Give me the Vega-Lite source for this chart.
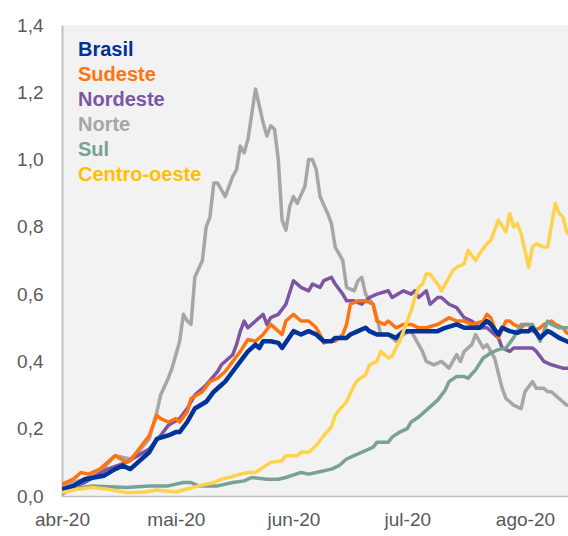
{
  "$schema": "https://vega.github.io/schema/vega-lite/v6.json",
  "width": 506,
  "height": 471,
  "autosize": {"type": "none"},
  "padding": {"left": 62, "top": 25, "right": 0, "bottom": 40},
  "background": "white",
  "config": {
    "view": {"fill": "#F2F2F2", "stroke": null},
    "font": "Liberation Sans"
  },
  "data": {
    "values": [
      {"s":"Norte","d":"2020-04-01","v":0.03},{"s":"Norte","d":"2020-04-07","v":0.05},{"s":"Norte","d":"2020-04-11","v":0.07},{"s":"Norte","d":"2020-04-15","v":0.12},{"s":"Norte","d":"2020-04-19","v":0.11},{"s":"Norte","d":"2020-04-21","v":0.13},{"s":"Norte","d":"2020-04-24","v":0.17},{"s":"Norte","d":"2020-04-26","v":0.25},{"s":"Norte","d":"2020-04-27","v":0.30},{"s":"Norte","d":"2020-04-29","v":0.35},{"s":"Norte","d":"2020-04-30","v":0.38},{"s":"Norte","d":"2020-05-01","v":0.42},{"s":"Norte","d":"2020-05-02","v":0.46},{"s":"Norte","d":"2020-05-03","v":0.54},{"s":"Norte","d":"2020-05-04","v":0.52},{"s":"Norte","d":"2020-05-05","v":0.51},{"s":"Norte","d":"2020-05-06","v":0.65},{"s":"Norte","d":"2020-05-08","v":0.70},{"s":"Norte","d":"2020-05-09","v":0.80},{"s":"Norte","d":"2020-05-10","v":0.83},{"s":"Norte","d":"2020-05-11","v":0.93},{"s":"Norte","d":"2020-05-12","v":0.93},{"s":"Norte","d":"2020-05-14","v":0.89},{"s":"Norte","d":"2020-05-16","v":0.95},{"s":"Norte","d":"2020-05-17","v":0.97},{"s":"Norte","d":"2020-05-18","v":1.04},{"s":"Norte","d":"2020-05-19","v":1.02},{"s":"Norte","d":"2020-05-20","v":1.06},{"s":"Norte","d":"2020-05-22","v":1.21},{"s":"Norte","d":"2020-05-24","v":1.11},{"s":"Norte","d":"2020-05-25","v":1.07},{"s":"Norte","d":"2020-05-26","v":1.10},{"s":"Norte","d":"2020-05-27","v":1.09},{"s":"Norte","d":"2020-05-28","v":1.00},{"s":"Norte","d":"2020-05-29","v":0.82},{"s":"Norte","d":"2020-05-30","v":0.79},{"s":"Norte","d":"2020-05-31","v":0.86},{"s":"Norte","d":"2020-06-01","v":0.89},{"s":"Norte","d":"2020-06-02","v":0.87},{"s":"Norte","d":"2020-06-04","v":0.92},{"s":"Norte","d":"2020-06-05","v":1.00},{"s":"Norte","d":"2020-06-06","v":1.00},{"s":"Norte","d":"2020-06-07","v":0.97},{"s":"Norte","d":"2020-06-08","v":0.89},{"s":"Norte","d":"2020-06-10","v":0.84},{"s":"Norte","d":"2020-06-11","v":0.81},{"s":"Norte","d":"2020-06-12","v":0.74},{"s":"Norte","d":"2020-06-13","v":0.72},{"s":"Norte","d":"2020-06-14","v":0.70},{"s":"Norte","d":"2020-06-15","v":0.62},{"s":"Norte","d":"2020-06-17","v":0.61},{"s":"Norte","d":"2020-06-18","v":0.64},{"s":"Norte","d":"2020-06-19","v":0.65},{"s":"Norte","d":"2020-06-20","v":0.60},{"s":"Norte","d":"2020-06-22","v":0.57},{"s":"Norte","d":"2020-06-23","v":0.53},{"s":"Norte","d":"2020-06-24","v":0.48},{"s":"Norte","d":"2020-06-26","v":0.48},{"s":"Norte","d":"2020-06-28","v":0.46},{"s":"Norte","d":"2020-06-30","v":0.48},{"s":"Norte","d":"2020-07-02","v":0.49},{"s":"Norte","d":"2020-07-03","v":0.47},{"s":"Norte","d":"2020-07-04","v":0.45},{"s":"Norte","d":"2020-07-05","v":0.43},{"s":"Norte","d":"2020-07-06","v":0.40},{"s":"Norte","d":"2020-07-08","v":0.39},{"s":"Norte","d":"2020-07-10","v":0.40},{"s":"Norte","d":"2020-07-12","v":0.38},{"s":"Norte","d":"2020-07-14","v":0.42},{"s":"Norte","d":"2020-07-15","v":0.40},{"s":"Norte","d":"2020-07-16","v":0.43},{"s":"Norte","d":"2020-07-18","v":0.45},{"s":"Norte","d":"2020-07-19","v":0.48},{"s":"Norte","d":"2020-07-21","v":0.44},{"s":"Norte","d":"2020-07-22","v":0.45},{"s":"Norte","d":"2020-07-23","v":0.43},{"s":"Norte","d":"2020-07-24","v":0.41},{"s":"Norte","d":"2020-07-26","v":0.32},{"s":"Norte","d":"2020-07-27","v":0.29},{"s":"Norte","d":"2020-07-28","v":0.28},{"s":"Norte","d":"2020-07-29","v":0.27},{"s":"Norte","d":"2020-07-31","v":0.26},{"s":"Norte","d":"2020-08-01","v":0.31},{"s":"Norte","d":"2020-08-03","v":0.34},{"s":"Norte","d":"2020-08-04","v":0.32},{"s":"Norte","d":"2020-08-06","v":0.32},{"s":"Norte","d":"2020-08-07","v":0.31},{"s":"Norte","d":"2020-08-08","v":0.31},{"s":"Norte","d":"2020-08-10","v":0.29},{"s":"Norte","d":"2020-08-12","v":0.27},{"s":"Norte","d":"2020-08-13","v":0.27},

      {"s":"Nordeste","d":"2020-04-01","v":0.015},{"s":"Nordeste","d":"2020-04-07","v":0.04},{"s":"Nordeste","d":"2020-04-13","v":0.08},{"s":"Nordeste","d":"2020-04-18","v":0.10},{"s":"Nordeste","d":"2020-04-21","v":0.12},{"s":"Nordeste","d":"2020-04-24","v":0.14},{"s":"Nordeste","d":"2020-04-27","v":0.18},{"s":"Nordeste","d":"2020-04-29","v":0.21},{"s":"Nordeste","d":"2020-05-02","v":0.23},{"s":"Nordeste","d":"2020-05-04","v":0.26},{"s":"Nordeste","d":"2020-05-06","v":0.30},{"s":"Nordeste","d":"2020-05-09","v":0.33},{"s":"Nordeste","d":"2020-05-12","v":0.37},{"s":"Nordeste","d":"2020-05-13","v":0.39},{"s":"Nordeste","d":"2020-05-16","v":0.42},{"s":"Nordeste","d":"2020-05-17","v":0.45},{"s":"Nordeste","d":"2020-05-18","v":0.49},{"s":"Nordeste","d":"2020-05-19","v":0.52},{"s":"Nordeste","d":"2020-05-20","v":0.50},{"s":"Nordeste","d":"2020-05-22","v":0.52},{"s":"Nordeste","d":"2020-05-24","v":0.54},{"s":"Nordeste","d":"2020-05-25","v":0.51},{"s":"Nordeste","d":"2020-05-26","v":0.53},{"s":"Nordeste","d":"2020-05-28","v":0.54},{"s":"Nordeste","d":"2020-05-30","v":0.57},{"s":"Nordeste","d":"2020-06-01","v":0.64},{"s":"Nordeste","d":"2020-06-03","v":0.62},{"s":"Nordeste","d":"2020-06-05","v":0.61},{"s":"Nordeste","d":"2020-06-06","v":0.63},{"s":"Nordeste","d":"2020-06-08","v":0.62},{"s":"Nordeste","d":"2020-06-09","v":0.64},{"s":"Nordeste","d":"2020-06-11","v":0.65},{"s":"Nordeste","d":"2020-06-12","v":0.63},{"s":"Nordeste","d":"2020-06-14","v":0.60},{"s":"Nordeste","d":"2020-06-15","v":0.58},{"s":"Nordeste","d":"2020-06-17","v":0.58},{"s":"Nordeste","d":"2020-06-19","v":0.57},{"s":"Nordeste","d":"2020-06-21","v":0.59},{"s":"Nordeste","d":"2020-06-23","v":0.60},{"s":"Nordeste","d":"2020-06-26","v":0.61},{"s":"Nordeste","d":"2020-06-27","v":0.59},{"s":"Nordeste","d":"2020-06-30","v":0.61},{"s":"Nordeste","d":"2020-07-02","v":0.60},{"s":"Nordeste","d":"2020-07-03","v":0.61},{"s":"Nordeste","d":"2020-07-04","v":0.59},{"s":"Nordeste","d":"2020-07-06","v":0.61},{"s":"Nordeste","d":"2020-07-07","v":0.57},{"s":"Nordeste","d":"2020-07-09","v":0.59},{"s":"Nordeste","d":"2020-07-10","v":0.59},{"s":"Nordeste","d":"2020-07-12","v":0.57},{"s":"Nordeste","d":"2020-07-14","v":0.56},{"s":"Nordeste","d":"2020-07-16","v":0.53},{"s":"Nordeste","d":"2020-07-18","v":0.52},{"s":"Nordeste","d":"2020-07-20","v":0.50},{"s":"Nordeste","d":"2020-07-22","v":0.50},{"s":"Nordeste","d":"2020-07-25","v":0.47},{"s":"Nordeste","d":"2020-07-26","v":0.44},{"s":"Nordeste","d":"2020-07-28","v":0.43},{"s":"Nordeste","d":"2020-07-29","v":0.44},{"s":"Nordeste","d":"2020-07-31","v":0.44},{"s":"Nordeste","d":"2020-08-03","v":0.44},{"s":"Nordeste","d":"2020-08-04","v":0.43},{"s":"Nordeste","d":"2020-08-06","v":0.40},{"s":"Nordeste","d":"2020-08-08","v":0.39},{"s":"Nordeste","d":"2020-08-11","v":0.38},{"s":"Nordeste","d":"2020-08-13","v":0.38},

      {"s":"Sudeste","d":"2020-04-01","v":0.035},{"s":"Sudeste","d":"2020-04-04","v":0.05},{"s":"Sudeste","d":"2020-04-06","v":0.07},{"s":"Sudeste","d":"2020-04-08","v":0.065},{"s":"Sudeste","d":"2020-04-11","v":0.08},{"s":"Sudeste","d":"2020-04-13","v":0.10},{"s":"Sudeste","d":"2020-04-15","v":0.12},{"s":"Sudeste","d":"2020-04-18","v":0.10},{"s":"Sudeste","d":"2020-04-19","v":0.105},{"s":"Sudeste","d":"2020-04-22","v":0.15},{"s":"Sudeste","d":"2020-04-24","v":0.18},{"s":"Sudeste","d":"2020-04-26","v":0.24},{"s":"Sudeste","d":"2020-04-27","v":0.23},{"s":"Sudeste","d":"2020-04-29","v":0.22},{"s":"Sudeste","d":"2020-05-01","v":0.23},{"s":"Sudeste","d":"2020-05-02","v":0.22},{"s":"Sudeste","d":"2020-05-04","v":0.25},{"s":"Sudeste","d":"2020-05-05","v":0.29},{"s":"Sudeste","d":"2020-05-08","v":0.31},{"s":"Sudeste","d":"2020-05-10","v":0.34},{"s":"Sudeste","d":"2020-05-12","v":0.35},{"s":"Sudeste","d":"2020-05-14","v":0.37},{"s":"Sudeste","d":"2020-05-16","v":0.40},{"s":"Sudeste","d":"2020-05-18","v":0.43},{"s":"Sudeste","d":"2020-05-20","v":0.465},{"s":"Sudeste","d":"2020-05-22","v":0.46},{"s":"Sudeste","d":"2020-05-24","v":0.48},{"s":"Sudeste","d":"2020-05-26","v":0.51},{"s":"Sudeste","d":"2020-05-28","v":0.49},{"s":"Sudeste","d":"2020-05-29","v":0.48},{"s":"Sudeste","d":"2020-05-30","v":0.52},{"s":"Sudeste","d":"2020-06-01","v":0.54},{"s":"Sudeste","d":"2020-06-03","v":0.52},{"s":"Sudeste","d":"2020-06-05","v":0.52},{"s":"Sudeste","d":"2020-06-07","v":0.50},{"s":"Sudeste","d":"2020-06-08","v":0.48},{"s":"Sudeste","d":"2020-06-09","v":0.455},{"s":"Sudeste","d":"2020-06-10","v":0.46},{"s":"Sudeste","d":"2020-06-12","v":0.46},{"s":"Sudeste","d":"2020-06-14","v":0.48},{"s":"Sudeste","d":"2020-06-15","v":0.51},{"s":"Sudeste","d":"2020-06-16","v":0.57},{"s":"Sudeste","d":"2020-06-18","v":0.58},{"s":"Sudeste","d":"2020-06-20","v":0.58},{"s":"Sudeste","d":"2020-06-22","v":0.57},{"s":"Sudeste","d":"2020-06-23","v":0.52},{"s":"Sudeste","d":"2020-06-25","v":0.51},{"s":"Sudeste","d":"2020-06-26","v":0.52},{"s":"Sudeste","d":"2020-06-28","v":0.50},{"s":"Sudeste","d":"2020-06-30","v":0.51},{"s":"Sudeste","d":"2020-07-02","v":0.51},{"s":"Sudeste","d":"2020-07-04","v":0.50},{"s":"Sudeste","d":"2020-07-06","v":0.50},{"s":"Sudeste","d":"2020-07-09","v":0.51},{"s":"Sudeste","d":"2020-07-12","v":0.53},{"s":"Sudeste","d":"2020-07-14","v":0.52},{"s":"Sudeste","d":"2020-07-16","v":0.52},{"s":"Sudeste","d":"2020-07-18","v":0.51},{"s":"Sudeste","d":"2020-07-21","v":0.52},{"s":"Sudeste","d":"2020-07-22","v":0.54},{"s":"Sudeste","d":"2020-07-23","v":0.53},{"s":"Sudeste","d":"2020-07-24","v":0.50},{"s":"Sudeste","d":"2020-07-25","v":0.47},{"s":"Sudeste","d":"2020-07-27","v":0.52},{"s":"Sudeste","d":"2020-07-28","v":0.52},{"s":"Sudeste","d":"2020-07-29","v":0.51},{"s":"Sudeste","d":"2020-07-31","v":0.50},{"s":"Sudeste","d":"2020-08-01","v":0.51},{"s":"Sudeste","d":"2020-08-02","v":0.51},{"s":"Sudeste","d":"2020-08-03","v":0.49},{"s":"Sudeste","d":"2020-08-05","v":0.50},{"s":"Sudeste","d":"2020-08-06","v":0.51},{"s":"Sudeste","d":"2020-08-08","v":0.52},{"s":"Sudeste","d":"2020-08-09","v":0.51},{"s":"Sudeste","d":"2020-08-11","v":0.50},{"s":"Sudeste","d":"2020-08-12","v":0.485},{"s":"Sudeste","d":"2020-08-13","v":0.48},

      {"s":"Sul","d":"2020-04-01","v":0.005},{"s":"Sul","d":"2020-04-03","v":0.02},{"s":"Sul","d":"2020-04-09","v":0.03},{"s":"Sul","d":"2020-04-18","v":0.025},{"s":"Sul","d":"2020-04-24","v":0.03},{"s":"Sul","d":"2020-04-29","v":0.03},{"s":"Sul","d":"2020-05-03","v":0.04},{"s":"Sul","d":"2020-05-05","v":0.04},{"s":"Sul","d":"2020-05-07","v":0.03},{"s":"Sul","d":"2020-05-12","v":0.03},{"s":"Sul","d":"2020-05-16","v":0.04},{"s":"Sul","d":"2020-05-19","v":0.045},{"s":"Sul","d":"2020-05-21","v":0.055},{"s":"Sul","d":"2020-05-25","v":0.05},{"s":"Sul","d":"2020-05-28","v":0.05},{"s":"Sul","d":"2020-05-30","v":0.055},{"s":"Sul","d":"2020-06-03","v":0.07},{"s":"Sul","d":"2020-06-05","v":0.065},{"s":"Sul","d":"2020-06-07","v":0.07},{"s":"Sul","d":"2020-06-11","v":0.08},{"s":"Sul","d":"2020-06-13","v":0.09},{"s":"Sul","d":"2020-06-15","v":0.11},{"s":"Sul","d":"2020-06-17","v":0.12},{"s":"Sul","d":"2020-06-19","v":0.13},{"s":"Sul","d":"2020-06-21","v":0.14},{"s":"Sul","d":"2020-06-22","v":0.145},{"s":"Sul","d":"2020-06-23","v":0.16},{"s":"Sul","d":"2020-06-26","v":0.16},{"s":"Sul","d":"2020-06-27","v":0.175},{"s":"Sul","d":"2020-06-29","v":0.19},{"s":"Sul","d":"2020-07-01","v":0.20},{"s":"Sul","d":"2020-07-02","v":0.22},{"s":"Sul","d":"2020-07-04","v":0.235},{"s":"Sul","d":"2020-07-07","v":0.265},{"s":"Sul","d":"2020-07-09","v":0.285},{"s":"Sul","d":"2020-07-11","v":0.315},{"s":"Sul","d":"2020-07-12","v":0.34},{"s":"Sul","d":"2020-07-14","v":0.355},{"s":"Sul","d":"2020-07-16","v":0.355},{"s":"Sul","d":"2020-07-17","v":0.35},{"s":"Sul","d":"2020-07-19","v":0.375},{"s":"Sul","d":"2020-07-21","v":0.41},{"s":"Sul","d":"2020-07-23","v":0.425},{"s":"Sul","d":"2020-07-25","v":0.435},{"s":"Sul","d":"2020-07-27","v":0.44},{"s":"Sul","d":"2020-07-29","v":0.47},{"s":"Sul","d":"2020-07-31","v":0.51},{"s":"Sul","d":"2020-08-02","v":0.51},{"s":"Sul","d":"2020-08-03","v":0.51},{"s":"Sul","d":"2020-08-05","v":0.46},{"s":"Sul","d":"2020-08-07","v":0.52},{"s":"Sul","d":"2020-08-08","v":0.51},{"s":"Sul","d":"2020-08-10","v":0.50},{"s":"Sul","d":"2020-08-13","v":0.50},

      {"s":"Brasil","d":"2020-04-01","v":0.02},{"s":"Brasil","d":"2020-04-04","v":0.03},{"s":"Brasil","d":"2020-04-07","v":0.05},{"s":"Brasil","d":"2020-04-12","v":0.06},{"s":"Brasil","d":"2020-04-15","v":0.08},{"s":"Brasil","d":"2020-04-17","v":0.09},{"s":"Brasil","d":"2020-04-19","v":0.08},{"s":"Brasil","d":"2020-04-21","v":0.10},{"s":"Brasil","d":"2020-04-24","v":0.13},{"s":"Brasil","d":"2020-04-26","v":0.17},{"s":"Brasil","d":"2020-04-29","v":0.18},{"s":"Brasil","d":"2020-05-01","v":0.19},{"s":"Brasil","d":"2020-05-02","v":0.19},{"s":"Brasil","d":"2020-05-04","v":0.22},{"s":"Brasil","d":"2020-05-06","v":0.26},{"s":"Brasil","d":"2020-05-09","v":0.28},{"s":"Brasil","d":"2020-05-11","v":0.31},{"s":"Brasil","d":"2020-05-13","v":0.33},{"s":"Brasil","d":"2020-05-14","v":0.34},{"s":"Brasil","d":"2020-05-16","v":0.37},{"s":"Brasil","d":"2020-05-18","v":0.40},{"s":"Brasil","d":"2020-05-20","v":0.43},{"s":"Brasil","d":"2020-05-22","v":0.45},{"s":"Brasil","d":"2020-05-23","v":0.44},{"s":"Brasil","d":"2020-05-24","v":0.46},{"s":"Brasil","d":"2020-05-26","v":0.46},{"s":"Brasil","d":"2020-05-28","v":0.455},{"s":"Brasil","d":"2020-05-29","v":0.44},{"s":"Brasil","d":"2020-06-01","v":0.49},{"s":"Brasil","d":"2020-06-03","v":0.48},{"s":"Brasil","d":"2020-06-05","v":0.49},{"s":"Brasil","d":"2020-06-07","v":0.48},{"s":"Brasil","d":"2020-06-09","v":0.46},{"s":"Brasil","d":"2020-06-11","v":0.46},{"s":"Brasil","d":"2020-06-12","v":0.47},{"s":"Brasil","d":"2020-06-15","v":0.47},{"s":"Brasil","d":"2020-06-16","v":0.48},{"s":"Brasil","d":"2020-06-18","v":0.49},{"s":"Brasil","d":"2020-06-20","v":0.50},{"s":"Brasil","d":"2020-06-21","v":0.49},{"s":"Brasil","d":"2020-06-23","v":0.48},{"s":"Brasil","d":"2020-06-25","v":0.48},{"s":"Brasil","d":"2020-06-26","v":0.48},{"s":"Brasil","d":"2020-06-28","v":0.47},{"s":"Brasil","d":"2020-06-30","v":0.49},{"s":"Brasil","d":"2020-07-02","v":0.49},{"s":"Brasil","d":"2020-07-04","v":0.49},{"s":"Brasil","d":"2020-07-06","v":0.49},{"s":"Brasil","d":"2020-07-09","v":0.49},{"s":"Brasil","d":"2020-07-11","v":0.50},{"s":"Brasil","d":"2020-07-14","v":0.51},{"s":"Brasil","d":"2020-07-16","v":0.50},{"s":"Brasil","d":"2020-07-18","v":0.50},{"s":"Brasil","d":"2020-07-20","v":0.50},{"s":"Brasil","d":"2020-07-22","v":0.52},{"s":"Brasil","d":"2020-07-23","v":0.51},{"s":"Brasil","d":"2020-07-25","v":0.48},{"s":"Brasil","d":"2020-07-26","v":0.50},{"s":"Brasil","d":"2020-07-28","v":0.49},{"s":"Brasil","d":"2020-07-30","v":0.485},{"s":"Brasil","d":"2020-07-31","v":0.49},{"s":"Brasil","d":"2020-08-02","v":0.49},{"s":"Brasil","d":"2020-08-03","v":0.50},{"s":"Brasil","d":"2020-08-05","v":0.47},{"s":"Brasil","d":"2020-08-07","v":0.49},{"s":"Brasil","d":"2020-08-08","v":0.485},{"s":"Brasil","d":"2020-08-10","v":0.47},{"s":"Brasil","d":"2020-08-12","v":0.46},{"s":"Brasil","d":"2020-08-13","v":0.455},

      {"s":"Centro-oeste","d":"2020-04-01","v":0.01},{"s":"Centro-oeste","d":"2020-04-05","v":0.02},{"s":"Centro-oeste","d":"2020-04-09","v":0.025},{"s":"Centro-oeste","d":"2020-04-13","v":0.02},{"s":"Centro-oeste","d":"2020-04-18","v":0.01},{"s":"Centro-oeste","d":"2020-04-23","v":0.012},{"s":"Centro-oeste","d":"2020-04-26","v":0.018},{"s":"Centro-oeste","d":"2020-05-01","v":0.012},{"s":"Centro-oeste","d":"2020-05-03","v":0.018},{"s":"Centro-oeste","d":"2020-05-07","v":0.03},{"s":"Centro-oeste","d":"2020-05-11","v":0.04},{"s":"Centro-oeste","d":"2020-05-13","v":0.05},{"s":"Centro-oeste","d":"2020-05-15","v":0.055},{"s":"Centro-oeste","d":"2020-05-18","v":0.065},{"s":"Centro-oeste","d":"2020-05-20","v":0.07},{"s":"Centro-oeste","d":"2020-05-22","v":0.07},{"s":"Centro-oeste","d":"2020-05-24","v":0.085},{"s":"Centro-oeste","d":"2020-05-26","v":0.10},{"s":"Centro-oeste","d":"2020-05-29","v":0.105},{"s":"Centro-oeste","d":"2020-05-30","v":0.12},{"s":"Centro-oeste","d":"2020-06-02","v":0.12},{"s":"Centro-oeste","d":"2020-06-03","v":0.13},{"s":"Centro-oeste","d":"2020-06-05","v":0.13},{"s":"Centro-oeste","d":"2020-06-07","v":0.15},{"s":"Centro-oeste","d":"2020-06-09","v":0.18},{"s":"Centro-oeste","d":"2020-06-11","v":0.205},{"s":"Centro-oeste","d":"2020-06-12","v":0.24},{"s":"Centro-oeste","d":"2020-06-13","v":0.255},{"s":"Centro-oeste","d":"2020-06-15","v":0.28},{"s":"Centro-oeste","d":"2020-06-16","v":0.305},{"s":"Centro-oeste","d":"2020-06-17","v":0.33},{"s":"Centro-oeste","d":"2020-06-18","v":0.345},{"s":"Centro-oeste","d":"2020-06-20","v":0.36},{"s":"Centro-oeste","d":"2020-06-21","v":0.39},{"s":"Centro-oeste","d":"2020-06-23","v":0.40},{"s":"Centro-oeste","d":"2020-06-24","v":0.43},{"s":"Centro-oeste","d":"2020-06-26","v":0.41},{"s":"Centro-oeste","d":"2020-06-27","v":0.415},{"s":"Centro-oeste","d":"2020-06-28","v":0.44},{"s":"Centro-oeste","d":"2020-06-29","v":0.46},{"s":"Centro-oeste","d":"2020-06-30","v":0.49},{"s":"Centro-oeste","d":"2020-07-01","v":0.52},{"s":"Centro-oeste","d":"2020-07-02","v":0.55},{"s":"Centro-oeste","d":"2020-07-03","v":0.59},{"s":"Centro-oeste","d":"2020-07-04","v":0.62},{"s":"Centro-oeste","d":"2020-07-05","v":0.63},{"s":"Centro-oeste","d":"2020-07-06","v":0.66},{"s":"Centro-oeste","d":"2020-07-07","v":0.66},{"s":"Centro-oeste","d":"2020-07-09","v":0.63},{"s":"Centro-oeste","d":"2020-07-10","v":0.61},{"s":"Centro-oeste","d":"2020-07-13","v":0.67},{"s":"Centro-oeste","d":"2020-07-14","v":0.68},{"s":"Centro-oeste","d":"2020-07-16","v":0.69},{"s":"Centro-oeste","d":"2020-07-17","v":0.73},{"s":"Centro-oeste","d":"2020-07-19","v":0.70},{"s":"Centro-oeste","d":"2020-07-20","v":0.72},{"s":"Centro-oeste","d":"2020-07-22","v":0.75},{"s":"Centro-oeste","d":"2020-07-23","v":0.76},{"s":"Centro-oeste","d":"2020-07-25","v":0.82},{"s":"Centro-oeste","d":"2020-07-27","v":0.785},{"s":"Centro-oeste","d":"2020-07-28","v":0.84},{"s":"Centro-oeste","d":"2020-07-29","v":0.80},{"s":"Centro-oeste","d":"2020-07-30","v":0.81},{"s":"Centro-oeste","d":"2020-07-31","v":0.78},{"s":"Centro-oeste","d":"2020-08-02","v":0.68},{"s":"Centro-oeste","d":"2020-08-03","v":0.74},{"s":"Centro-oeste","d":"2020-08-04","v":0.75},{"s":"Centro-oeste","d":"2020-08-06","v":0.74},{"s":"Centro-oeste","d":"2020-08-07","v":0.74},{"s":"Centro-oeste","d":"2020-08-09","v":0.87},{"s":"Centro-oeste","d":"2020-08-10","v":0.84},{"s":"Centro-oeste","d":"2020-08-11","v":0.83},{"s":"Centro-oeste","d":"2020-08-12","v":0.785},{"s":"Centro-oeste","d":"2020-08-13","v":0.77}
    ]
  },
  "mark": {"type": "line", "clip": true, "strokeJoin": "round", "strokeCap": "butt"},
  "encoding": {
    "x": {
      "field": "d",
      "type": "temporal",
      "scale": {
        "type": "utc",
        "domain": [
          {"year": 2020, "month": 4, "date": 1, "utc": true},
          {"year": 2020, "month": 8, "date": 12, "hours": 8, "minutes": 24, "utc": true}
        ]
      },
      "axis": {
        "title": null,
        "values": [
          {"year": 2020, "month": 4, "date": 1, "utc": true},
          {"year": 2020, "month": 5, "date": 1, "utc": true},
          {"year": 2020, "month": 6, "date": 1, "utc": true},
          {"year": 2020, "month": 7, "date": 1, "utc": true},
          {"year": 2020, "month": 8, "date": 1, "utc": true}
        ],
        "labelExpr": "['jan','fev','mar','abr','mai','jun','jul','ago','set','out','nov','dez'][utcmonth(datum.value)] + '-' + utcFormat(datum.value, '%y')",
        "labelFlush": false,
        "labelOverlap": false,
        "labelFont": "Liberation Sans",
        "labelFontSize": 19,
        "labelColor": "#595959",
        "labelPadding": 14,
        "ticks": false,
        "tickSize": 0,
        "grid": false,
        "domainColor": "#BFBFBF",
        "domainWidth": 1.5
      }
    },
    "y": {
      "field": "v",
      "type": "quantitative",
      "scale": {"domain": [0, 1.4], "nice": false, "zero": true},
      "axis": {
        "title": null,
        "values": [0, 0.2, 0.4, 0.6, 0.8, 1.0, 1.2, 1.4],
        "labelExpr": "replace(format(datum.value, '.1f'), '.', ',')",
        "labelFont": "Liberation Sans",
        "labelFontSize": 19,
        "labelColor": "#595959",
        "labelPadding": 19,
        "ticks": false,
        "tickSize": 0,
        "grid": false,
        "domainColor": "#BFBFBF",
        "domainWidth": 2
      }
    },
    "color": {
      "field": "s",
      "type": "nominal",
      "scale": {
        "domain": ["Brasil", "Sudeste", "Nordeste", "Norte", "Sul", "Centro-oeste"],
        "range": ["#003399", "#FF7410", "#7D55A3", "#A6A6A6", "#78A296", "#FFD24C"]
      },
      "legend": {
        "orient": "none",
        "legendX": -4,
        "legendY": 15,
        "title": null,
        "padding": 0,
        "labelFont": "Liberation Sans",
        "labelFontSize": 20,
        "labelFontWeight": "bold",
        "labelOffset": 0,
        "symbolSize": 0,
        "symbolOpacity": 0,
        "symbolStrokeWidth": 0,
        "rowPadding": 5,
        "encode": {
          "labels": {
            "update": {
              "fill": {"signal": "datum.value === 'Centro-oeste' ? '#FFC000' : scale('color', datum.value)"}
            }
          }
        }
      }
    },
    "strokeWidth": {"condition": {"test": "datum.s === 'Brasil'", "value": 4.5}, "value": 3.5}
  }
}
